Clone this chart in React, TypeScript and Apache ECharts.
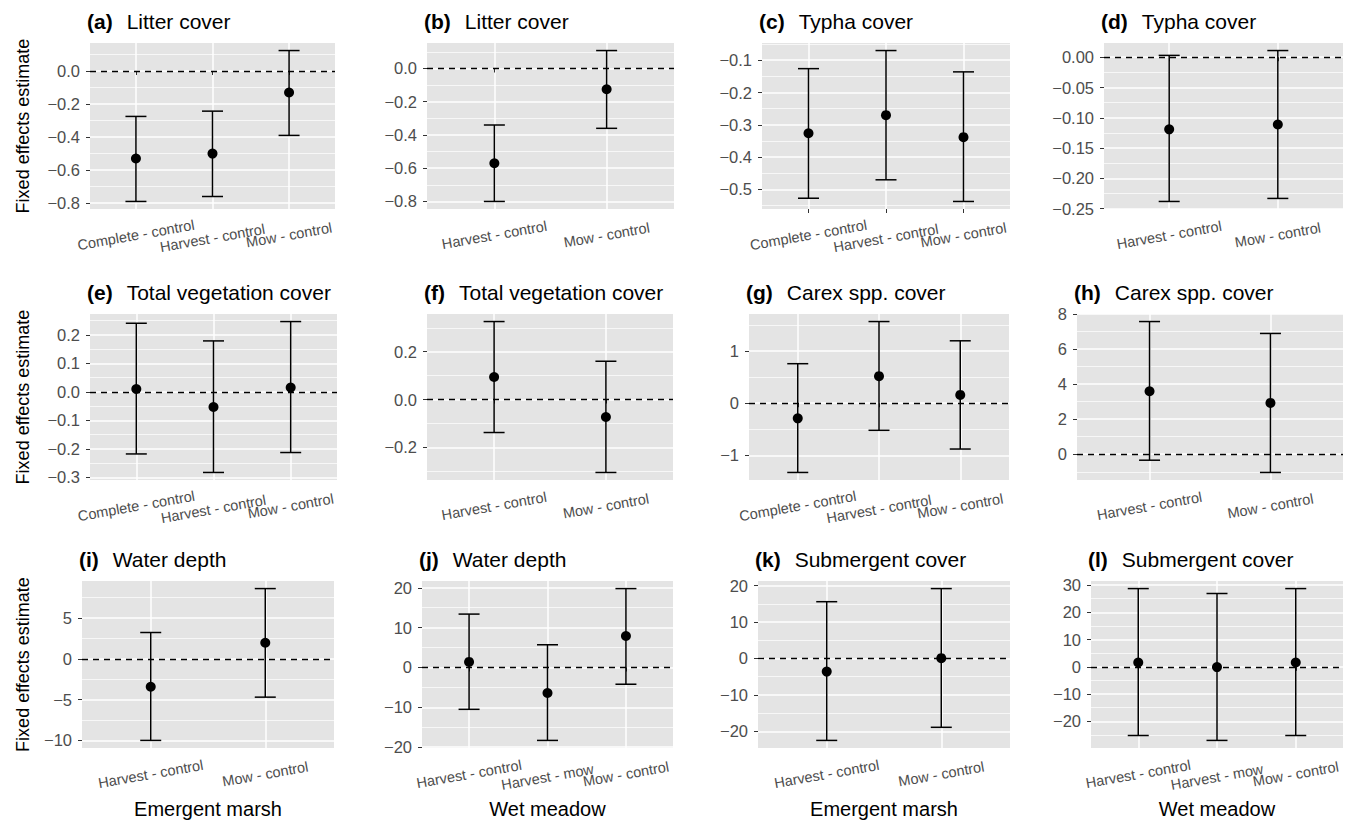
import React, { useEffect, useRef } from "react";
import * as echarts from "echarts";

const FONT = "'Liberation Sans', Arial, Helvetica, sans-serif";
const BG = "#E4E4E4";

// Categories
const catsEM3 = ["Complete - control", "Harvest - control", "Mow - control"];
const cats2 = ["Harvest - control", "Mow - control"];
const catsWM3 = ["Harvest - control", "Harvest - mow", "Mow - control"];

// (a) Litter cover – emergent marsh
const aMean = [-0.53, -0.5, -0.13];
const aLow = [-0.79, -0.76, -0.39];
const aHigh = [-0.275, -0.243, 0.124];
const aTicks = [-0.8, -0.6, -0.4, -0.2, 0];

// (b) Litter cover – wet meadow
const bMean = [-0.57, -0.125];
const bLow = [-0.8, -0.36];
const bHigh = [-0.34, 0.108];
const bTicks = [-0.8, -0.6, -0.4, -0.2, 0];

// (c) Typha cover – emergent marsh
const cMean = [-0.326, -0.27, -0.338];
const cLow = [-0.527, -0.47, -0.537];
const cHigh = [-0.126, -0.07, -0.136];
const cTicks = [-0.5, -0.4, -0.3, -0.2, -0.1];

// (d) Typha cover – wet meadow
const dMean = [-0.119, -0.111];
const dLow = [-0.238, -0.233];
const dHigh = [0.003, 0.011];
const dTicks = [-0.25, -0.2, -0.15, -0.1, -0.05, 0];

// (e) Total vegetation cover – emergent marsh
const eMean = [0.01, -0.053, 0.015];
const eLow = [-0.218, -0.283, -0.213];
const eHigh = [0.241, 0.179, 0.247];
const eTicks = [-0.3, -0.2, -0.1, 0, 0.1, 0.2];

// (f) Total vegetation cover – wet meadow
const fMean = [0.094, -0.073];
const fLow = [-0.138, -0.305];
const fHigh = [0.326, 0.16];
const fTicks = [-0.2, 0, 0.2];

// (g) Carex spp. cover – emergent marsh
const gMean = [-0.29, 0.52, 0.16];
const gLow = [-1.33, -0.52, -0.88];
const gHigh = [0.76, 1.57, 1.2];
const gTicks = [-1, 0, 1];

// (h) Carex spp. cover – wet meadow
const hMean = [3.6, 2.93];
const hLow = [-0.34, -1.04];
const hHigh = [7.58, 6.9];
const hTicks = [0, 2, 4, 6, 8];

// (i) Water depth – emergent marsh
const iMean = [-3.43, 1.96];
const iLow = [-10.0, -4.7];
const iHigh = [3.22, 8.6];
const iTicks = [-10, -5, 0, 5];

// (j) Water depth – wet meadow
const jMean = [1.4, -6.4, 7.9];
const jLow = [-10.5, -18.3, -4.2];
const jHigh = [13.4, 5.7, 19.8];
const jTicks = [-20, -10, 0, 10, 20];

// (k) Submergent cover – emergent marsh
const kMean = [-3.6, 0.1];
const kLow = [-22.5, -18.9];
const kHigh = [15.6, 19.2];
const kTicks = [-20, -10, 0, 10, 20];

// (l) Submergent cover – wet meadow
const lMean = [1.6, -0.1, 1.6];
const lLow = [-25.2, -27.0, -25.2];
const lHigh = [28.7, 26.9, 28.7];
const lTicks = [-20, -10, 0, 10, 20, 30];

const panels = [
  { tag: "(a)", title: "Litter cover", cats: catsEM3, mean: aMean, low: aLow, high: aHigh, ticks: aTicks, dec: 1 },
  { tag: "(b)", title: "Litter cover", cats: cats2, mean: bMean, low: bLow, high: bHigh, ticks: bTicks, dec: 1 },
  { tag: "(c)", title: "Typha cover", cats: catsEM3, mean: cMean, low: cLow, high: cHigh, ticks: cTicks, dec: 1 },
  { tag: "(d)", title: "Typha cover", cats: cats2, mean: dMean, low: dLow, high: dHigh, ticks: dTicks, dec: 2 },
  { tag: "(e)", title: "Total vegetation cover", cats: catsEM3, mean: eMean, low: eLow, high: eHigh, ticks: eTicks, dec: 1 },
  { tag: "(f)", title: "Total vegetation cover", cats: cats2, mean: fMean, low: fLow, high: fHigh, ticks: fTicks, dec: 1 },
  { tag: "(g)", title: "Carex spp. cover", cats: catsEM3, mean: gMean, low: gLow, high: gHigh, ticks: gTicks, dec: 0 },
  { tag: "(h)", title: "Carex spp. cover", cats: cats2, mean: hMean, low: hLow, high: hHigh, ticks: hTicks, dec: 0 },
  { tag: "(i)", title: "Water depth", cats: cats2, mean: iMean, low: iLow, high: iHigh, ticks: iTicks, dec: 0 },
  { tag: "(j)", title: "Water depth", cats: catsWM3, mean: jMean, low: jLow, high: jHigh, ticks: jTicks, dec: 0 },
  { tag: "(k)", title: "Submergent cover", cats: cats2, mean: kMean, low: kLow, high: kHigh, ticks: kTicks, dec: 0 },
  { tag: "(l)", title: "Submergent cover", cats: catsWM3, mean: lMean, low: lLow, high: lHigh, ticks: lTicks, dec: 0 },
];

const bottomTitles = ["Emergent marsh", "Wet meadow", "Emergent marsh", "Wet meadow"];
const yTitle = "Fixed effects estimate";

// Layout (left, top, width, height) of each panel in px
const rects = [
  [90, 43, 245, 166], [427, 43, 247, 166], [762, 43, 248, 166], [1104, 43, 239, 166],
  [90, 314, 247, 166], [427, 314, 246, 166], [749, 314, 260, 166], [1077, 314, 266, 166],
  [82, 581, 252, 167], [422, 581, 251, 167], [758, 581, 252, 167], [1091, 581, 252, 167],
];

function fmt(v: number, dec: number) {
  const s = Math.abs(v) < 1e-9 ? (0).toFixed(dec) : v.toFixed(dec);
  return s.replace("-", "\u2212");
}

function minorTicks(ticks: number[], lo: number, hi: number) {
  const step = ticks[1] - ticks[0];
  const ext = [ticks[0] - step, ...ticks, ticks[ticks.length - 1] + step];
  const out: number[] = [];
  for (let i = 0; i < ext.length - 1; i++) {
    const m = +((ext[i] + ext[i + 1]) / 2).toFixed(6);
    if (m > lo && m < hi) out.push(m);
  }
  return out;
}

export default function App() {
  const ref = useRef<HTMLDivElement>(null);
  useEffect(() => {
    const chart = echarts.init(ref.current!, null, { renderer: "svg" });

    const grids: any[] = [];
    const xAxes: any[] = [];
    const yAxes: any[] = [];
    const series: any[] = [];
    const titles: any[] = [];

    panels.forEach((p, i) => {
      const r = rects[i];
      const n = p.cats.length;
      const all = [...p.low, ...p.high, ...p.mean];
      const dmin = Math.min(...all);
      const dmax = Math.max(...all);
      const pad = (dmax - dmin) * 0.05;
      const ymin = dmin - pad;
      const ymax = dmax + pad;
      const idx = p.cats.map((_, j) => j + 1);
      const minors = minorTicks(p.ticks, ymin, ymax);

      grids.push({
        left: r[0], top: r[1], width: r[2], height: r[3],
        show: true, backgroundColor: BG, borderWidth: 0,
        containLabel: false, outerBoundsMode: "none",
      });

      // main x axis: ticks + vertical grid lines
      const mainX = xAxes.length;
      xAxes.push({
        type: "value", gridIndex: i, min: 0.4, max: n + 0.6, position: "bottom",
        axisLine: { show: false },
        axisTick: { show: true, length: 4, lineStyle: { color: "#333", width: 1 }, customValues: idx },
        axisLabel: { show: false, customValues: idx },
        splitLine: { show: true, lineStyle: { color: "#fff", width: 1.5 } },
      });
      // one label axis per category so overlapping labels are all kept
      idx.forEach((x) => {
        const middle = n === 3 && x === 2;
        xAxes.push({
          type: "value", gridIndex: i, min: 0.4, max: n + 0.6, position: "bottom", offset: 0,
          axisLine: { show: false },
          axisTick: { show: false, customValues: [x] },
          splitLine: { show: false },
          axisLabel: {
            customValues: [x],
            showMinLabel: true, showMaxLabel: true,
            formatter: (v: number) => p.cats[Math.round(v) - 1] ?? "",
            rotate: 10, align: "center", verticalAlign: "middle", margin: middle ? 29 : 26,
            color: "#4D4D4D", fontSize: 14.5, fontFamily: FONT,
          },
        });
      });

      const mainY = yAxes.length;
      yAxes.push({
        type: "value", gridIndex: i, min: ymin, max: ymax, position: "left",
        axisLine: { show: false },
        axisTick: { show: true, length: 4, lineStyle: { color: "#333", width: 1 }, customValues: p.ticks },
        axisLabel: {
          customValues: p.ticks,
          showMinLabel: true, showMaxLabel: true, hideOverlap: false,
          formatter: (v: number) => fmt(v, p.dec),
          color: "#4D4D4D", fontSize: 16.5, fontFamily: FONT, margin: 10,
        },
        splitLine: { show: true, lineStyle: { color: "#fff", width: 1.5 } },
      });
      yAxes.push({
        type: "value", gridIndex: i, min: ymin, max: ymax, position: "left",
        axisLine: { show: false },
        axisTick: { show: false, customValues: minors },
        axisLabel: { show: false, customValues: minors },
        splitLine: { show: true, lineStyle: { color: "#fff", width: 0.7 } },
      });

      series.push({
        type: "custom", xAxisIndex: mainX, yAxisIndex: mainY, z: 3,
        data: idx.map((x, j) => [x, p.low[j], p.high[j]]),
        encode: { x: 0, y: [1, 2] },
        renderItem: (_params: any, api: any) => {
          const x = api.value(0);
          const a = api.coord([x, api.value(1)]);
          const b = api.coord([x, api.value(2)]);
          const hw = 10.5;
          const style = { stroke: "#000", lineWidth: 1.5 };
          return {
            type: "group",
            children: [
              { type: "line", shape: { x1: a[0], y1: a[1], x2: b[0], y2: b[1] }, style },
              { type: "line", shape: { x1: a[0] - hw, y1: a[1], x2: a[0] + hw, y2: a[1] }, style },
              { type: "line", shape: { x1: b[0] - hw, y1: b[1], x2: b[0] + hw, y2: b[1] }, style },
            ],
          };
        },
      });
      series.push({
        type: "scatter", xAxisIndex: mainX, yAxisIndex: mainY, z: 4,
        data: idx.map((x, j) => [x, p.mean[j]]),
        symbol: "circle", symbolSize: 10,
        itemStyle: { color: "#000", opacity: 1 },
        markLine: {
          silent: true, symbol: ["none", "none"],
          label: { show: false },
          lineStyle: { color: "#000", width: 1.3, type: [6, 5], opacity: 1 },
          data: [{ yAxis: 0 }],
        },
      });

      titles.push({
        text: `{b|${p.tag}}{n|${p.title}}`,
        left: r[0] - 3, top: r[1] - 32, padding: 0,
        textStyle: {
          rich: {
            b: { fontWeight: "bold", fontSize: 21, fontFamily: FONT, color: "#000", padding: [0, 14, 0, 0] },
            n: { fontWeight: "normal", fontSize: 21, fontFamily: FONT, color: "#000" },
          },
        },
      });
    });

    const graphics: any[] = [];
    [0, 4, 8].forEach((k) => {
      const r = rects[k];
      graphics.push({
        type: "text", x: 22.5, y: r[1] + r[3] / 2, rotation: Math.PI / 2,
        style: { text: yTitle, fontSize: 18, fontFamily: FONT, fill: "#000", align: "center", verticalAlign: "middle" },
      });
    });
    bottomTitles.forEach((t, c) => {
      const r = rects[8 + c];
      graphics.push({
        type: "text", x: r[0] + r[2] / 2, y: 809,
        style: { text: t, fontSize: 20, fontFamily: FONT, fill: "#000", align: "center", verticalAlign: "middle" },
      });
    });

    chart.setOption({
      animation: false,
      backgroundColor: "#fff",
      title: titles,
      grid: grids,
      xAxis: xAxes,
      yAxis: yAxes,
      series,
      graphic: graphics,
    });
    return () => chart.dispose();
  }, []);
  return (
    <div
      ref={ref}
      style={{ position: "fixed", left: 0, top: 0, width: 1356, height: 821, background: "#fff" }}
    />
  );
}
